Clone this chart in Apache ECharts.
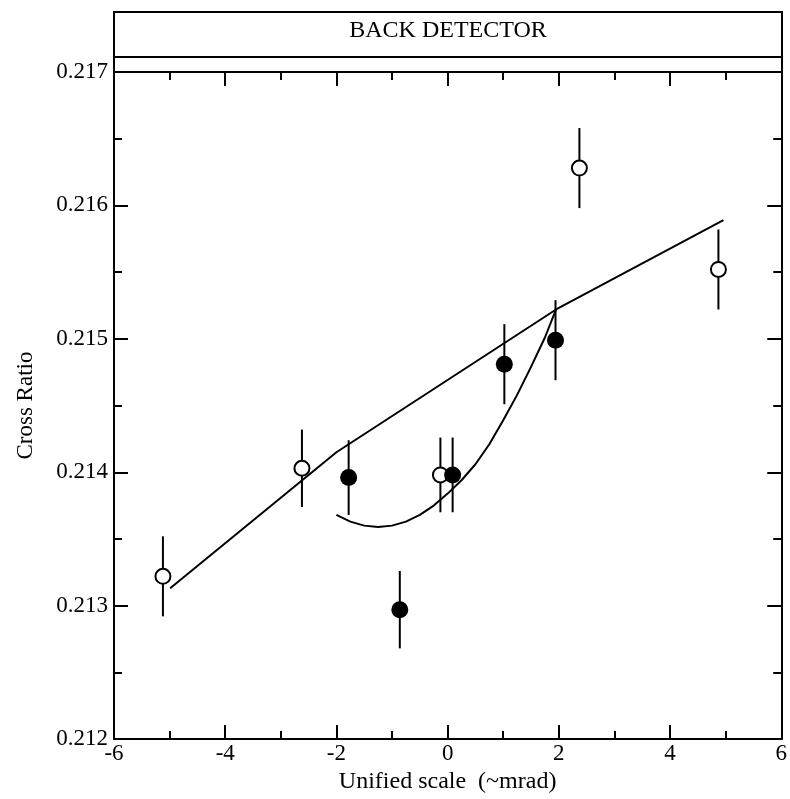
<!DOCTYPE html>
<html>
<head>
<meta charset="utf-8">
<title>Back detector cross ratio</title>
<script src="https://cdn.jsdelivr.net/npm/echarts@6/dist/echarts.min.js"></script>
<style>
  html, body { margin: 0; padding: 0; background: #fff; }
  #chart { width: 790px; height: 799px; }
</style>
</head>
<body>
<div id="chart"></div>
<script>
// Measurements: [x, crossRatio, error]
const openPoints = [
  [-5.12, 0.21322, 0.00030],
  [-2.62, 0.21403, 0.00029],
  [-0.13, 0.21398, 0.00028],
  [2.37, 0.21628, 0.00030],
  [4.87, 0.21552, 0.00030]
];
const filledPoints = [
  [-1.78, 0.21396, 0.00028],
  [-0.86, 0.21297, 0.00029],
  [0.09, 0.21398, 0.00028],
  [1.02, 0.21481, 0.00030],
  [1.94, 0.21499, 0.00030]
];
// Fitted trend (broken straight line)
const trendLine = [
  [-4.99, 0.21313],
  [-2.0, 0.21415],
  [1.95, 0.21522],
  [4.96, 0.21589]
];
// Fitted curve through the filled points, sampled densely
const fitCurve = [
  [-2.0, 0.21368],
  [-1.75, 0.21363],
  [-1.5, 0.21360],
  [-1.25, 0.21359],
  [-1.0, 0.21360],
  [-0.75, 0.21363],
  [-0.5, 0.21368],
  [-0.25, 0.21375],
  [0.0, 0.21384],
  [0.25, 0.21394],
  [0.5, 0.21406],
  [0.75, 0.21421],
  [1.0, 0.21439],
  [1.25, 0.21458],
  [1.5, 0.21479],
  [1.75, 0.21501],
  [1.95, 0.21522]
];
const titleText = 'BACK DETECTOR';
const xName = 'Unified scale  (~mrad)';
const yName = 'Cross Ratio';

const FONT = '"Liberation Serif", "DejaVu Serif", serif';
const FS = 24;
const GL = 114, GR = 8, GT = 72, GB = 59;
const W = 790;

const chart = echarts.init(document.getElementById('chart'), null, { renderer: 'canvas' });

function errorBars(points) {
  return {
    type: 'custom',
    z: 3,
    silent: true,
    data: points,
    renderItem: function (params, api) {
      const x = api.value(0), y = api.value(1), e = api.value(2);
      const p1 = api.coord([x, y - e]);
      const p2 = api.coord([x, y + e]);
      return {
        type: 'line',
        shape: { x1: p1[0], y1: p1[1], x2: p2[0], y2: p2[1] },
        style: { stroke: '#000', lineWidth: 2 }
      };
    }
  };
}

const axisCommon = {
  axisLine: { show: true, onZero: false, lineStyle: { color: '#000', width: 2 } },
  axisTick: { show: true, inside: true, length: 14, lineStyle: { color: '#000', width: 2 } },
  minorTick: { show: true, splitNumber: 2, length: 8, lineStyle: { color: '#000', width: 2 } },
  splitLine: { show: false },
  minorSplitLine: { show: false }
};

const option = {
  backgroundColor: '#fff',
  animation: false,
  grid: { left: GL, right: GR, top: GT, bottom: GB },
  xAxis: [
    Object.assign({
      type: 'value', min: -6, max: 6, interval: 2, position: 'bottom',
      name: xName, nameLocation: 'middle', nameGap: 28,
      nameTextStyle: { fontFamily: FONT, fontSize: FS, color: '#000' },
      axisLabel: { fontFamily: FONT, fontSize: FS - 1, color: '#000', margin: 3 }
    }, axisCommon),
    Object.assign({
      type: 'value', min: -6, max: 6, interval: 2, position: 'top',
      axisLabel: { show: false }
    }, axisCommon)
  ],
  yAxis: [
    Object.assign({
      type: 'value', min: 0.212, max: 0.217, interval: 0.001, position: 'left',
      name: yName, nameLocation: 'middle', nameGap: 77, nameRotate: 90,
      nameTextStyle: { fontFamily: FONT, fontSize: FS - 1, color: '#000' },
      axisLabel: {
        fontFamily: FONT, fontSize: FS - 1, color: '#000', margin: 6,
        formatter: v => v.toFixed(3)
      }
    }, axisCommon),
    Object.assign({
      type: 'value', min: 0.212, max: 0.217, interval: 0.001, position: 'right',
      axisLabel: { show: false }
    }, axisCommon)
  ],
  graphic: [
    {
      type: 'rect', z: 10,
      shape: { x: GL, y: 12, width: W - GL - GR, height: GT - 12 },
      style: { fill: '#fff', stroke: '#000', lineWidth: 2 }
    },
    {
      type: 'line', z: 11,
      shape: { x1: GL, y1: 57, x2: W - GR, y2: 57 },
      style: { stroke: '#000', lineWidth: 2 }
    },
    {
      type: 'text', z: 12,
      x: GL + (W - GL - GR) / 2, y: 31,
      style: {
        text: titleText, fontFamily: FONT, fontSize: FS, fill: '#000',
        align: 'center', verticalAlign: 'middle'
      }
    }
  ],
  series: [
    {
      type: 'line', data: trendLine, showSymbol: false, silent: true, z: 2,
      lineStyle: { color: '#000', width: 2 }
    },
    {
      type: 'line', data: fitCurve, showSymbol: false, smooth: false, silent: true, z: 2,
      lineStyle: { color: '#000', width: 2, join: 'round' }
    },
    errorBars(openPoints),
    errorBars(filledPoints),
    {
      type: 'scatter', data: openPoints.map(p => [p[0], p[1]]),
      symbol: 'circle', symbolSize: 15, z: 5,
      itemStyle: { color: '#fff', borderColor: '#000', borderWidth: 2, opacity: 1 }
    },
    {
      type: 'scatter', data: filledPoints.map(p => [p[0], p[1]]),
      symbol: 'circle', symbolSize: 17, z: 5,
      itemStyle: { color: '#000', borderColor: '#000', borderWidth: 0, opacity: 1 }
    }
  ]
};

chart.setOption(option);
</script>
</body>
</html>
